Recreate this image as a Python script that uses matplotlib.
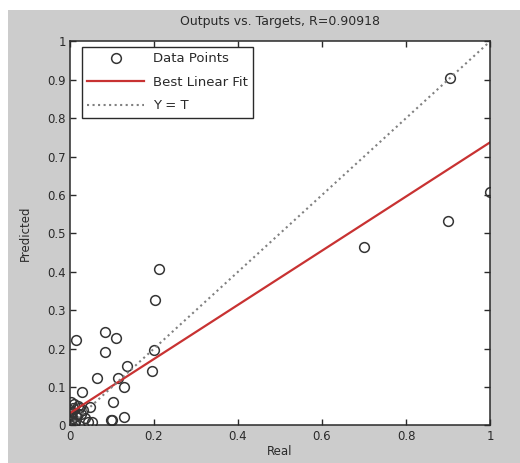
import numpy as np
import matplotlib
matplotlib.use("Agg")
import matplotlib.pyplot as plt
from matplotlib.patches import Rectangle

plt.rcParams['font.family'] = ['DejaVu Sans']

# valores
real = [0.213, 0.202, 0.015, 0.084, 0.109, 0.084, 0.065, 0.136, 0.114, 0.129,
        0.102, 0.097, 0.129, 0.195, 0.200, 0.028, 0.099, 0.044, 0.048, 0.052,
        0.70, 0.90, 0.905, 1.0,
        0.0, 0.005, 0.01, 0.0, 0.02, 0.003, 0.012, 0.0, 0.008, 0.015,
        0.025, 0.005, 0.018, 0.0, 0.03, 0.004, 0.01, 0.0, 0.035, 0.022]
pred = [0.407, 0.326, 0.222, 0.244, 0.227, 0.192, 0.124, 0.155, 0.123, 0.101,
        0.062, 0.014, 0.023, 0.142, 0.196, 0.086, 0.014, 0.010, 0.049, 0.010,
        0.465, 0.533, 0.905, 0.609,
        0.0, 0.02, 0.005, 0.04, 0.03, 0.06, 0.01, 0.015, 0.045, 0.025,
        0.03, 0.0, 0.05, 0.03, 0.04, 0.035, 0.055, 0.012, 0.02, 0.045]
fit_slope = 0.705
fit_intercept = 0.032
r_value = 0.90918

txt = '#2a2a2a'
fig = plt.figure(figsize=(5.2, 4.63), dpi=100)
fig.patches.append(Rectangle((8 / 520, 0), 1, 1 - 10 / 463, transform=fig.transFigure,
                             facecolor='#cccccc', edgecolor='none', zorder=-1))
ax = fig.add_axes([70 / 520, 1 - 425.4 / 463, 420 / 520, 384 / 463])

ax.plot(real, pred, 'o', ms=7, mfc='none', mec='#353535', mew=1.1, label='Data Points')
xs = np.array([0, 1])
ax.plot(xs, fit_intercept + fit_slope * xs, color='#c83232', lw=1.6, label='Best Linear Fit')
ax.plot(xs, xs, ':', color='#808080', lw=1.5, label='Y = T')

ax.set_xlim(0, 1)
ax.set_ylim(0, 1)
ax.set_xticks(np.arange(0, 1.01, 0.2))
ax.set_yticks(np.arange(0, 1.01, 0.1))
ax.set_xticklabels(['0', '0.2', '0.4', '0.6', '0.8', '1'])
ax.set_yticklabels(['0'] + ['%.1f' % v for v in np.arange(0.1, 0.95, 0.1)] + ['1'])
ax.tick_params(direction='in', top=True, right=True, length=4, width=1,
               labelsize=8.5, colors=txt, pad=3)
for s in ax.spines.values():
    s.set_color(txt)
    s.set_linewidth(1.1)

ax.set_title('Outputs vs. Targets, R=%.5f' % r_value, fontsize=9, color=txt, pad=12)
ax.set_xlabel('Real', fontsize=8.5, color=txt, labelpad=2)
ax.set_ylabel('Predicted', fontsize=8.5, color=txt, labelpad=11)

leg = ax.legend(loc='upper left', bbox_to_anchor=(12 / 420, 1 - 5.6 / 384),
                borderaxespad=0, fontsize=9.5, fancybox=False, framealpha=1,
                edgecolor=txt, borderpad=0.4, handlelength=4.3,
                handletextpad=0.7, labelspacing=0.8)
leg.get_frame().set_linewidth(1.0)
for t in leg.get_texts():
    t.set_color(txt)

plt.savefig("out.png", dpi=100)
